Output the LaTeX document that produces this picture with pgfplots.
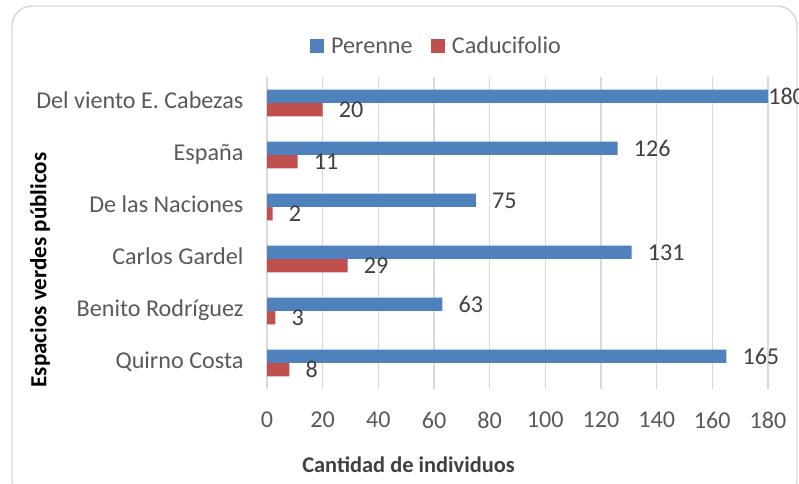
\documentclass[border=0pt]{standalone}
\usepackage{pgfplots}
\usepackage{pgfplotstable}
\usepackage{fontspec}
\setmainfont{Carlito}
\pgfplotsset{compat=1.18}
\definecolor{cblue}{HTML}{4F81BD}
\definecolor{cred}{HTML}{C0504D}
\definecolor{ctick}{HTML}{595959}
\definecolor{clab}{HTML}{404040}
\definecolor{cgrid}{HTML}{D9D9D9}
\pgfplotstableread{
y val off
0 165 12
1 63 12
2 131 12
3 75 12
4 126 12
5 180 0
}\perenne
\pgfplotstableread{
y val off
0 8 12
1 3 12
2 29 12
3 2 12
4 11 12
5 20 12
}\caduc
\begin{document}
\begin{tikzpicture}
\useasboundingbox (0,0) rectangle (599.25pt,363pt);
\draw[cgrid, line width=1.1pt, rounded corners=15pt] (9pt,-12pt) rectangle (597.75pt,358.5pt);
\begin{axis}[
  at={(200.25pt,71.25pt)}, anchor=south west,
  scale only axis, width=375.75pt, height=234pt,
  xbar, bar width=10.1pt,
  xmin=0, xmax=180, ymin=-0.5, ymax=5.5,
  xtick={0,20,...,180},
  ytick={0,1,2,3,4,5},
  yticklabels={Quirno Costa,Benito Rodríguez,Carlos Gardel,De las Naciones,España,Del viento E. Cabezas},
  axis line style={draw=none},
  major tick length=0pt,
  xmajorgrids, major grid style={cgrid, line width=1.1pt},
  tick label style={font=\fontsize{18.1pt}{21pt}\selectfont, text=ctick},
  /pgf/number format/assume math mode=true,
  xticklabel style={inner sep=0pt, anchor=north, yshift=-17pt},
  yticklabel style={inner sep=0pt, anchor=mid east, xshift=-17.5pt, yshift=-1.6pt},
  clip=false,
  nodes near coords,
  every node near coord/.append style={font=\fontsize{18.1pt}{21pt}\selectfont, text=clab, inner sep=0pt, anchor=mid west, yshift=-3.6pt},
  legend style={at={(0.3393,1.0978)}, anchor=center, draw=none, fill=none,
    font=\fontsize{18.1pt}{21pt}\selectfont, text=ctick,
    legend columns=2, /tikz/every even column/.append style={column sep=12pt},
    inner sep=0pt},
  legend image code/.code={\fill[#1] (0pt,-5.25pt) rectangle (10.5pt,5.25pt); \path (13.5pt,0pt);},
]
\addplot[fill=cblue, draw=none, bar shift=5.06pt,
  visualization depends on={\thisrow{off} \as \myoff},
  every node near coord/.append style={xshift=\myoff pt}]
  table[x=val, y=y] {\perenne};
\addlegendentry{Perenne}
\addplot[fill=cred, draw=none, bar shift=-5.06pt,
  visualization depends on={\thisrow{off} \as \myoff},
  every node near coord/.append style={xshift=\myoff pt}]
  table[x=val, y=y] {\caduc};
\addlegendentry{Caducifolio}
\end{axis}
\node[rotate=90, font=\fontsize{17.3pt}{20pt}\selectfont\bfseries, text=black] at (30pt,160.5pt) {Espacios verdes públicos};
\node[font=\fontsize{16.8pt}{20pt}\selectfont\bfseries, text=clab] at (306.4pt,14.25pt) {Cantidad de individuos};
\end{tikzpicture}
\end{document}
